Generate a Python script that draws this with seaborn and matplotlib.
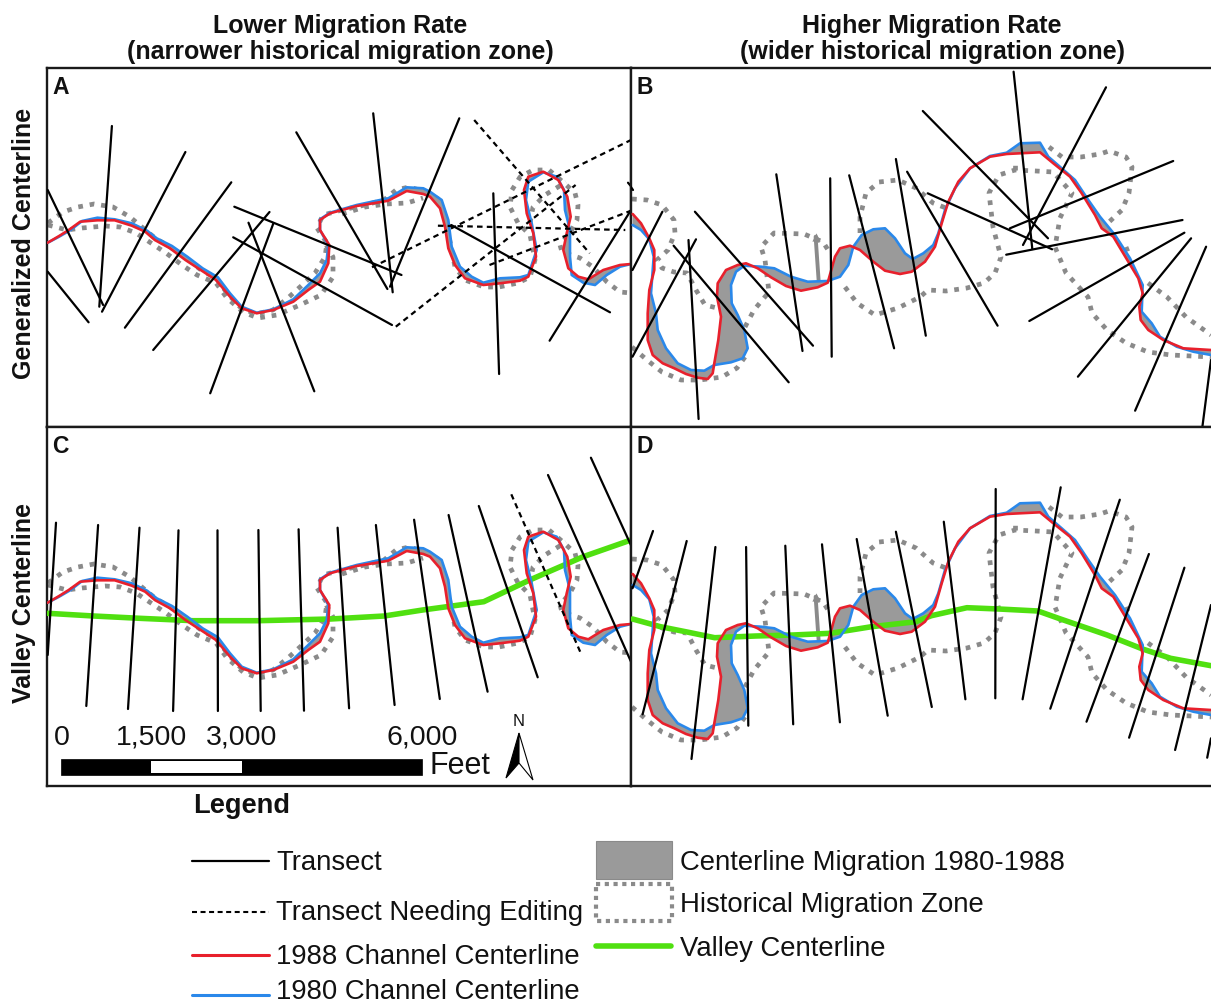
import numpy as np
import seaborn as sns
import matplotlib.pyplot as plt
from matplotlib.patches import Polygon, Rectangle

red_l_x = [47.7, 59.1, 68.7, 80.2, 97.4, 114.6, 131.8, 145.2, 154.8, 170, 185.4, 200.7, 216, 230, 241.7, 256.7, 273.3, 293.3, 308.3, 320, 328.3, 329.3, 320, 320, 330, 356.7, 376.7, 388.3, 406.7, 423.3, 430, 440, 445, 448.3, 455, 465, 483.3, 500, 520, 528.3, 536, 533.3, 526.7, 524, 528.3, 543.3, 558.3, 567.3, 570.7, 566.7, 563.3, 568.3, 578.3, 588.3, 603.3, 620, 631]
red_l_y = [242.7, 236, 230, 221.7, 220.3, 220.3, 225.7, 231.7, 240, 248.3, 260, 270, 280, 296.7, 308.3, 313.3, 310, 301.7, 290, 281.7, 263.3, 245, 230, 220, 213.3, 206, 202.7, 200.7, 191, 194, 196.7, 208.3, 226.7, 248.3, 265, 278.3, 285, 283.3, 280.7, 276.7, 256.7, 233.3, 213.3, 190, 176.7, 171.7, 180, 196.7, 216.7, 233.3, 250, 268.3, 276.7, 279.3, 270, 265, 264]
blue_l_x = [47.7, 59.1, 70.6, 82.1, 97.4, 114.6, 131.8, 147.1, 156.7, 172, 187.3, 202.6, 217.9, 230, 241.7, 256.7, 273.3, 293.3, 308.3, 320, 326.7, 328.3, 320, 320, 330, 356.7, 376.7, 388.3, 406.7, 423.3, 430, 441.7, 448.3, 451.7, 460, 471.7, 483.3, 500, 520, 528.3, 536.7, 531.7, 526, 528.3, 543.3, 556.7, 564, 565, 570, 570, 571.7, 583.3, 595, 606.7, 620, 631]
blue_l_y = [242.7, 236.7, 230, 221, 217.7, 219.3, 223.3, 230.7, 238.3, 246, 256.7, 268.3, 277.3, 293.3, 306.7, 312.7, 309.3, 299.3, 285, 273.3, 260, 245, 230, 219.3, 212.7, 205, 200.7, 198.3, 187.3, 188.3, 191.7, 200, 220, 246.7, 266.7, 276.7, 282.7, 278.3, 277.3, 275, 250, 223.3, 200, 181.7, 172.3, 176.7, 190, 210, 230, 256.7, 275, 282.7, 285, 275, 266.7, 264]
red_r_x = [632.7, 641, 649.3, 654.3, 654.3, 649.3, 647.7, 647.7, 652.7, 662.7, 674.3, 686, 697.7, 707.7, 712.7, 714.3, 718.3, 721, 717, 717.7, 726, 737.7, 746, 757.7, 771, 786, 801, 817.7, 827.7, 835, 840, 850, 860, 873.3, 885, 900, 911.7, 925, 935, 941.7, 948.3, 958.3, 970, 990, 1006.7, 1020, 1040, 1053.3, 1070, 1081.7, 1095, 1101.7, 1113.3, 1128.3, 1138.3, 1142.7, 1139.3, 1140.7, 1148.3, 1163.3, 1183.3, 1211]
red_r_y = [214, 223.3, 238.3, 250, 270, 290, 313.3, 340, 355, 363.3, 368.3, 374, 377.7, 379, 373.3, 363.3, 340, 316.7, 296.7, 283.3, 270, 265, 263.3, 268.3, 277.3, 286, 290.7, 287.3, 282.7, 256.7, 248.3, 245.7, 250, 261.7, 270.7, 274, 271.7, 261.7, 246.7, 223.3, 201.7, 181.7, 168.3, 156.7, 154, 153.3, 152.3, 163.3, 176.7, 193.3, 215, 228.3, 236.7, 261.7, 278.3, 293.3, 306.7, 320, 330, 340, 348.3, 350]
blue_r_x = [632.7, 641, 649.3, 653.7, 651, 656, 657.7, 666, 677.7, 691, 704.3, 714.3, 731, 742.7, 747.7, 744.3, 737.7, 731.7, 731, 736, 744.3, 761, 774.3, 791, 807.7, 827.7, 840, 848.3, 853.3, 861.7, 873.3, 885, 895, 905, 912.7, 923.3, 933.3, 938.3, 945, 955, 970, 990, 1006.7, 1020, 1040, 1048.3, 1061.7, 1075, 1088.3, 1100, 1115, 1130, 1142.7, 1141.7, 1151.7, 1160, 1176.7, 1193.3, 1211]
blue_r_y = [225, 230, 239.3, 256.7, 293.3, 313.3, 330, 348.3, 363.3, 370, 370.7, 365, 362.3, 358.3, 348.3, 330, 315, 303.3, 285, 271.7, 265.7, 266.7, 268.3, 276.7, 281.7, 281, 276.7, 265, 246.7, 235, 229.3, 228.3, 238.3, 253.3, 259, 253.3, 245, 233.3, 210, 188.3, 168.3, 156, 152.7, 143.3, 142.7, 156.7, 168.3, 180, 200, 216.7, 235, 258.3, 285, 311.7, 323.3, 336.7, 346.7, 351.7, 355]

# historical migration zone outlines
zone_left = [
    [(48, 223), (63, 212), (78, 207), (94, 204), (113, 207), (130, 217), (143, 228), (155, 238), (170, 247), (185, 257), (201, 270), (216, 278), (227, 293), (241, 308), (256, 314), (273, 310), (289, 297), (300, 287), (315, 273), (325, 257), (327, 243), (317, 228), (323, 215), (342, 210), (365, 205), (384, 200), (396, 190), (409, 187), (426, 192), (440, 200), (446, 220), (451, 247), (455, 267), (465, 280), (484, 287), (499, 287), (518, 283), (530, 277), (535, 260), (530, 235), (518, 223), (510, 207), (512, 190), (520, 177), (533, 170), (549, 170), (563, 182), (575, 193), (578, 205), (577, 220), (570, 233), (560, 245), (562, 252), (580, 258), (593, 267), (607, 282), (620, 292), (631, 293)],
    [(48, 225), (67, 230), (82, 228), (105, 226), (120, 227), (136, 233), (151, 243), (166, 253), (182, 265), (197, 275), (216, 283), (227, 298), (243, 312), (258, 318), (277, 315), (300, 305), (321, 295), (333, 277), (333, 257), (325, 243)],
    [(342, 214), (365, 207), (386, 204), (407, 203), (423, 198)],
    [(530, 223), (533, 207), (545, 195), (558, 187), (566, 182)],
]
zone_right = [
    [(632, 199), (647, 200), (662, 205), (674, 220), (675, 233), (668, 250), (657, 260), (662, 268), (674, 272), (687, 273), (696, 290), (705, 305), (717, 308)],
    [(632, 347), (647, 360), (662, 372), (681, 380), (700, 380), (722, 377), (737, 368), (745, 357)],
    [(745, 327), (754, 310), (769, 292), (765, 260), (761, 247), (774, 233), (804, 234), (823, 242), (830, 253)],
    [(845, 287), (857, 303), (875, 315), (898, 308), (920, 297), (928, 290), (946, 291), (967, 288), (984, 283), (995, 273), (1001, 257), (993, 227), (989, 193), (999, 175), (1015, 170), (1036, 171), (1053, 172), (1072, 193), (1060, 218), (1055, 247), (1066, 273), (1088, 297), (1092, 313), (1107, 330), (1126, 343), (1148, 352), (1171, 355), (1211, 357)],
    [(1015, 170), (1015, 160)],
    [(1049, 147), (1062, 157), (1081, 157), (1100, 154), (1109, 151), (1126, 157), (1132, 167), (1129, 193), (1122, 210), (1109, 222)],
    [(860, 233), (860, 217), (866, 193), (879, 182), (898, 180), (916, 188), (933, 203), (946, 208)],
    [(1148, 283), (1167, 297), (1186, 317), (1211, 335)],
    [(1126, 247), (1130, 257)],
]
gray_mark_x = [815.6, 818.6]
gray_mark_y = [236.7, 280]

# valley centerlines, panels C and D
valley_c_x = [47.7, 93.6, 139.5, 193, 258.1, 330.7, 384.3, 422.6, 483.8, 529.7, 583.2, 631]
valley_c_y = [613.3, 616, 618.3, 620.7, 620.7, 619, 616, 610, 601.7, 580, 556.7, 540]
valley_d_x = [632.5, 660.5, 688.5, 714.7, 755.8, 793.2, 830.5, 871.6, 916, 931.4, 966.9, 998.7, 1037.9, 1058.5, 1107.1, 1142.6, 1170.6, 1211]
valley_d_y = [619, 626.7, 632.3, 637.7, 636, 635, 633.3, 626.7, 621.7, 615.7, 607.7, 609, 611, 618.3, 635, 649, 658.3, 665.7]

# transects as x1, y1, x2, y2
transects_a = [(47.7, 190, 103.1, 305), (111.9, 126, 99.3, 306.7), (185.4, 152, 102, 311.7), (47.7, 271.7, 88.6, 322.3), (231.3, 182.3, 124.9, 327.7), (269.5, 212, 153.2, 350), (234.3, 206.7, 401.5, 275), (273.4, 223.3, 210.2, 393.3), (248.5, 222.7, 314.3, 391.3), (233.2, 237.3, 392, 325), (296.3, 132.3, 387.4, 289), (373.2, 113.3, 392.7, 292.3), (459.3, 118.3, 390, 286.7), (493.3, 193.3, 499.1, 374), (451.2, 225, 610, 312.3), (631, 210, 549.6, 340.7), (628, 182.7, 636.8, 193)]
dashed_a = [(474.2, 120, 589.7, 253.3), (372, 267.3, 631, 140), (437.9, 225.7, 625.3, 230), (395.8, 326.7, 575.6, 185), (489.5, 265, 631, 210.7)]
transects_b = [(662.4, 211.7, 632.5, 270), (696, 239.3, 632.5, 356.7), (688.5, 240, 698.6, 419), (673.6, 245.7, 788.7, 382.3), (694.9, 211.7, 813, 345.7), (776.3, 174.3, 802.5, 351), (830.2, 178.3, 831.7, 356.7), (849.2, 175.3, 894.1, 348.3), (895.9, 159, 925.8, 335.7), (907.1, 171.7, 997.6, 325.7), (922.8, 111, 1048, 238.3), (1013.6, 71.7, 1032.3, 249), (1106, 87.3, 1023, 245), (927.7, 193.3, 1052.1, 249.3), (1173.2, 161, 1009.9, 228.3), (1182.5, 220, 1006.2, 254.7), (1184.4, 232.7, 1029.3, 321), (1191.1, 238.3, 1077.9, 376.7), (1206.1, 246.7, 1135.1, 410.7), (1211, 360, 1202.4, 426.7), (626, 180, 633, 190)]
transects_c = [(56, 522.7, 47.7, 655), (98.1, 525, 86.3, 706), (139.5, 527.7, 128, 709), (178.5, 530.3, 173.1, 711), (217.5, 530.3, 217.9, 711), (258.4, 530, 260.7, 711), (298.6, 529.3, 304, 710.7), (337.6, 527.7, 349.1, 708.3), (375.9, 525, 394.6, 705), (414.1, 519.7, 439.8, 699), (448.6, 515, 487.6, 691.7), (478.8, 506, 537.7, 677.3), (548, 475, 631, 661.7), (590.9, 457.7, 640, 565)]
dashed_c = [(511.3, 494.3, 581.3, 654.3)]
transects_d = [(653, 531, 632.5, 588.3), (686.7, 541, 642.6, 714.3), (715.4, 547, 691.5, 759), (746.1, 547, 748.3, 725.7), (785.3, 545.7, 793.2, 724.3), (822, 544.3, 839.9, 722.3), (856.7, 539, 887.7, 715.7), (895.9, 531.7, 931.8, 707), (943.8, 521.7, 965.4, 699.3), (995.7, 489, 995.3, 698.3), (1060.7, 487.3, 1022.6, 699.3), (1119.8, 499.7, 1050.3, 708.7), (1148.9, 554, 1086.5, 721.7), (1184.4, 567.7, 1129.1, 737.7), (1211, 605, 1175.1, 750), (1211, 738.3, 1207.2, 757.7)]

column_titles = ["Lower Migration Rate\n(narrower historical migration zone)",
                 "Higher Migration Rate\n(wider historical migration zone)"]
row_titles = ["Generalized Centerline", "Valley Centerline"]
scale_labels = ["0", "1,500", "3,000", "6,000"]
scale_feet = [0, 1500, 3000, 6000]
legend_left = ["Transect", "Transect Needing Editing", "1988 Channel Centerline", "1980 Channel Centerline"]
legend_right = ["Centerline Migration 1980-1988", "Historical Migration Zone", "Valley Centerline"]

RED = "#e8202c"
BLUE = "#2a88ea"
GREEN = "#50e010"
FILL = "#9a9a9a"
DOTS = "#8a8a8a"
INK = "#111111"
W, H = 1211, 1006
SHIFT = 360
DASH = (0, (2.5, 1.9))
DOTTED = (0, (1.0, 1.45))

sns.set_theme(style="white")
plt.rcParams['font.family'] = ['Liberation Sans', 'DejaVu Sans']

fig = plt.figure(figsize=(W / 100, H / 100), dpi=100)


def line(ax, x, y, color="black", lw=1.6, ls="-", z=5):
    sns.lineplot(x=np.asarray(x), y=np.asarray(y), sort=False, estimator=None, ax=ax,
                 color=color, linewidth=lw, linestyle=ls, zorder=z)


def panel(x0, y0, x1, y1):
    ax = fig.add_axes([x0 / W, 1 - y1 / H, (x1 - x0) / W, (y1 - y0) / H])
    return ax


def draw_panel(ax, box, letter, red, blue, zones, solid, dashed=(), valley=None, dy=0, mark=False):
    x0, y0, x1, y1 = box
    rx, ry = np.array(red[0]), np.array(red[1]) + dy
    bx, by = np.array(blue[0]), np.array(blue[1]) + dy
    ax.fill(np.r_[rx, bx[::-1]], np.r_[ry, by[::-1]], color=FILL, lw=0, zorder=2)
    for z in zones:
        z = np.array(z, dtype=float)
        line(ax, z[:, 0], z[:, 1] + dy, DOTS, 3.4, DOTTED, 1.5)
    if mark:
        line(ax, gray_mark_x, np.array(gray_mark_y) + dy, DOTS, 2.8, "-", 2)
        sns.scatterplot(x=gray_mark_x[:1], y=[gray_mark_y[0] + dy], ax=ax, marker="^", s=35,
                        color=DOTS, linewidth=0, zorder=2)
    if valley is not None:
        line(ax, valley[0], valley[1], GREEN, 4.0, "-", 3)
    line(ax, bx, by, BLUE, 1.9, "-", 4)
    line(ax, rx, ry, RED, 1.9, "-", 4.5)
    for t in solid:
        line(ax, t[0::2], t[1::2], "black", 1.6)
    for t in dashed:
        line(ax, t[0::2], t[1::2], "black", 1.6, DASH)
    ax.set(xlim=(x0, x1), ylim=(y1, y0), xticks=[], yticks=[], xlabel="", ylabel="")
    for s in ax.spines.values():
        s.set_visible(True)
        s.set_color("#1a1a1a")
        s.set_linewidth(1.7)
    ax.spines["right"].set_visible(x1 < W)
    ax.text(x0 + 5, y0 + 20, letter, fontsize=16.5, fontweight="bold", va="center", color=INK)


box_a = (47, 68, 631, 427)
box_b = (631, 68, W, 427)
box_c = (47, 427, 631, 786)
box_d = (631, 427, W, 786)
red_l, blue_l = (red_l_x, red_l_y), (blue_l_x, blue_l_y)
red_r, blue_r = (red_r_x, red_r_y), (blue_r_x, blue_r_y)

draw_panel(panel(*box_a), box_a, "A", red_l, blue_l, zone_left, transects_a, dashed_a)
draw_panel(panel(*box_b), box_b, "B", red_r, blue_r, zone_right, transects_b, mark=True)
draw_panel(panel(*box_c), box_c, "C", red_l, blue_l, zone_left, transects_c, dashed_c,
           valley=(valley_c_x, valley_c_y), dy=SHIFT)
draw_panel(panel(*box_d), box_d, "D", red_r, blue_r, zone_right, transects_d,
           valley=(valley_d_x, valley_d_y), dy=SHIFT, mark=True)

# overlay in pixel units for titles, scale bar and legend
top = fig.add_axes([0, 0, 1, 1], facecolor="none")
top.set(xlim=(0, W), ylim=(H, 0))
top.axis("off")

top.text(340, 39, column_titles[0], fontsize=18, fontweight="bold", ha="center", va="center",
         linespacing=1.13, color=INK)
top.text(932, 39, column_titles[1], fontsize=18, fontweight="bold", ha="center", va="center",
         linespacing=1.13, color=INK)
top.text(24, 243, row_titles[0], fontsize=18, fontweight="bold", rotation=90, ha="center", va="center", color=INK)
top.text(24, 603, row_titles[1], fontsize=18, fontweight="bold", rotation=90, ha="center", va="center", color=INK)

# scale bar: 6000 ft spans 61-422 px
bar_x = np.array(scale_feet, dtype=float) * (422 - 61) / 6000 + 61
top.add_patch(Rectangle((bar_x[0], 759), bar_x[3] - bar_x[0], 16, fc="black", ec="black", lw=0.5))
top.add_patch(Rectangle((bar_x[1], 761), bar_x[2] - bar_x[1], 12, fc="white", ec="none"))
for lab, bx_, off in zip(scale_labels, bar_x, [1, 0, 0, 0]):
    top.text(bx_ + off, 738, lab, fontsize=20.5, ha="center", va="center", color=INK)
top.text(429, 766, "Feet", fontsize=22, ha="left", va="center", color=INK)

top.text(519, 721, "N", fontsize=12, ha="center", va="center", color=INK)
top.add_patch(Polygon([(519, 733), (506, 778), (519, 763)], fc="black", ec="black", lw=0.8))
top.add_patch(Polygon([(519, 733), (533, 780), (519, 763)], fc="white", ec="black", lw=0.8))

# legend
top.text(193, 806, "Legend", fontsize=19.6, fontweight="bold", ha="left", va="center", color=INK)
left_y = [861, 912, 955, 995]
left_text_y = [862.5, 913.5, 956.5, 992]  # last one pulled up so it stays inside the figure
left_style = [("black", 1.6, "-"), ("black", 1.5, (0, (2.4, 1.7))), (RED, 2.2, "-"), (BLUE, 2.2, "-")]
for lab, yy, ty, st in zip(legend_left, left_y, left_text_y, left_style):
    line(top, [192, 269], [yy, yy], st[0], st[1], st[2])
    top.text(276, ty, lab, fontsize=19.8, ha="left", va="center", color=INK)
top.add_patch(Rectangle((596, 841), 76, 38, fc=FILL, ec="#8a8a8a", lw=0.8))
top.add_patch(Rectangle((596, 884), 76, 37, fc="none", ec=DOTS, lw=3.0, ls=(0, (1.0, 1.1))))
line(top, [596, 671], [946, 946], GREEN, 4.0)
for lab, yy in zip(legend_right, [861, 903, 947]):
    top.text(680, yy + 1.5, lab, fontsize=19.8, ha="left", va="center", color=INK)
top.set(xlim=(0, W), ylim=(H, 0), xlabel="", ylabel="")

fig.savefig("out.png", dpi=100, facecolor="white")
